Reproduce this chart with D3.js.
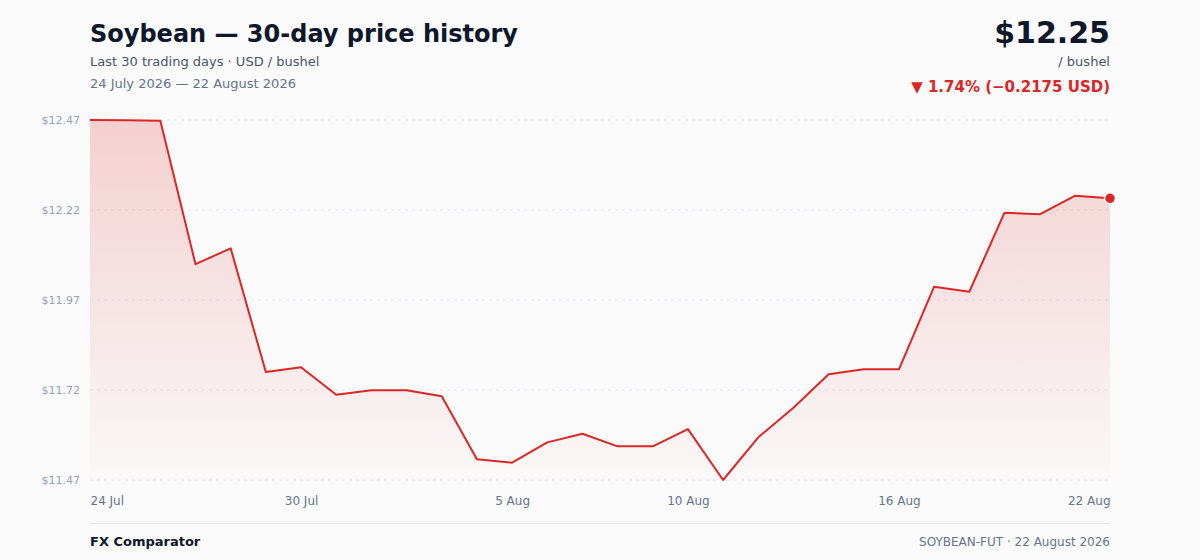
<!DOCTYPE html>
<html>
<head>
<meta charset="utf-8">
<script src="https://cdn.jsdelivr.net/npm/d3@7"></script>
<style>
  html, body { margin: 0; padding: 0; background: #fafafa; }
  svg { display: block; font-family: "DejaVu Sans", sans-serif; }
</style>
</head>
<body>
<div id="chart"></div>
<script>
// 30 calendar days, 24 Jul -> 22 Aug 2026
const dayLabels = ["24 Jul","25 Jul","26 Jul","27 Jul","28 Jul","29 Jul","30 Jul","31 Jul",
  "1 Aug","2 Aug","3 Aug","4 Aug","5 Aug","6 Aug","7 Aug","8 Aug","9 Aug","10 Aug",
  "11 Aug","12 Aug","13 Aug","14 Aug","15 Aug","16 Aug","17 Aug","18 Aug","19 Aug",
  "20 Aug","21 Aug","22 Aug"];
const prices = [12.4675, 12.4665, 12.4655, 12.067, 12.111, 11.7675, 11.7805, 11.7045,
  11.717, 11.717, 11.700, 11.525, 11.5155, 11.572, 11.596, 11.561, 11.561, 11.609,
  11.4675, 11.586, 11.668, 11.761, 11.775, 11.775, 12.0045, 11.9905, 12.210, 12.2055,
  12.257, 12.25];
const tickDays = ["24 Jul","30 Jul","5 Aug","10 Aug","16 Aug","22 Aug"];

const W = 1200, H = 560;
const margin = {left: 90, right: 90, top: 120, bottom: 80};

let svg = d3.select("#chart").append("svg")
  .attr("width", W).attr("height", H);

svg.append("rect").attr("width", W).attr("height", H).attr("fill", "#fafafa");

let x = d3.scalePoint(dayLabels, [margin.left, W - margin.right]);
let y = d3.scaleLinear(d3.extent(prices), [H - margin.bottom, margin.top]);

// header
svg.append("text").attr("x", 90).attr("y", 42)
  .attr("font-size", 24).attr("font-weight", "bold").attr("fill", "#0f172a")
  .text("Soybean — 30-day price history");
svg.append("text").attr("x", 90).attr("y", 66)
  .attr("font-size", 13).attr("fill", "#475569")
  .text("Last 30 trading days · USD / bushel");
svg.append("text").attr("x", 90).attr("y", 88)
  .attr("font-size", 13).attr("fill", "#64748b")
  .text("24 July 2026 — 22 August 2026");

let last = prices[prices.length - 1], first = prices[0];
let diff = last - first;
svg.append("text").attr("x", 1110).attr("y", 43).attr("text-anchor", "end")
  .attr("font-size", 30).attr("font-weight", "bold").attr("fill", "#0f172a")
  .text("$" + last.toFixed(2));
svg.append("text").attr("x", 1110).attr("y", 66).attr("text-anchor", "end")
  .attr("font-size", 13).attr("fill", "#475569")
  .text("/ bushel");
svg.append("text").attr("x", 1110).attr("y", 92).attr("text-anchor", "end")
  .attr("font-size", 15).attr("font-weight", "bold").attr("fill", "#dc2626")
  .text("▼ " + Math.abs(diff / first * 100).toFixed(2) + "% (−" + Math.abs(diff).toFixed(4) + " USD)");

// gradient for the area
let defs = svg.append("defs");
let grad = defs.append("linearGradient").attr("id", "areaGrad")
  .attr("x1", 0).attr("x2", 0).attr("y1", 0).attr("y2", 1);
grad.append("stop").attr("offset", "0%").attr("stop-color", "#dc2626").attr("stop-opacity", 0.2);
grad.append("stop").attr("offset", "100%").attr("stop-color", "#dc2626").attr("stop-opacity", 0.01);

// y grid + labels
let yDom = y.domain();
let yTicks = d3.range(5).map((i) => yDom[0] + i * (yDom[1] - yDom[0]) / 4);

let grid = svg.append("g").classed("grid", true);
grid.selectAll("line").data(yTicks).enter().append("line")
  .attr("x1", margin.left).attr("x2", W - margin.right)
  .attr("y1", (d) => y(d)).attr("y2", (d) => y(d))
  .attr("stroke", "#e2e8f0").attr("stroke-dasharray", "3,4");

let yAxis = svg.append("g")
  .attr("transform", "translate(" + (margin.left - 10) + ",0)")
  .call(d3.axisLeft(y).tickValues(yTicks).tickSize(0).tickPadding(0)
    .tickFormat((d) => "$" + d.toFixed(2)));
yAxis.select(".domain").remove();
yAxis.selectAll("text").attr("font-size", 11).attr("fill", "#94a3b8")
  .attr("font-family", "DejaVu Sans, sans-serif").attr("dy", "0.32em");

// area + line
svg.append("path").datum(prices)
  .attr("fill", "url(#areaGrad)")
  .attr("d", d3.area()
    .x((d, i) => x(dayLabels[i]))
    .y0(H - margin.bottom)
    .y1((d) => y(d)));

svg.append("path").datum(prices)
  .attr("fill", "none").attr("stroke", "#dc2626").attr("stroke-width", 2)
  .attr("stroke-linejoin", "round")
  .attr("d", d3.line()
    .x((d, i) => x(dayLabels[i]))
    .y((d) => y(d)));

svg.append("circle")
  .attr("cx", x(dayLabels[dayLabels.length - 1])).attr("cy", y(last))
  .attr("r", 5.5).attr("fill", "#dc2626").attr("stroke", "#fff").attr("stroke-width", 1.5);

// x axis labels
let xAxis = svg.append("g")
  .attr("transform", "translate(0," + (H - margin.bottom + 16) + ")")
  .call(d3.axisBottom(x).tickValues(tickDays).tickSize(0).tickPadding(0));
xAxis.select(".domain").remove();
xAxis.selectAll("text").attr("font-size", 12).attr("fill", "#64748b")
  .attr("font-family", "DejaVu Sans, sans-serif")
  .attr("text-anchor", (d, i) => i === 0 ? "start" : (i === tickDays.length - 1 ? "end" : "middle"));

// footer
svg.append("line").attr("x1", 90).attr("x2", 1110).attr("y1", 523.5).attr("y2", 523.5)
  .attr("stroke", "#e5e7eb");
svg.append("text").attr("x", 90).attr("y", 546)
  .attr("font-size", 13).attr("font-weight", "bold").attr("fill", "#0f172a")
  .text("FX Comparator");
svg.append("text").attr("x", 1110).attr("y", 546).attr("text-anchor", "end")
  .attr("font-size", 12).attr("fill", "#64748b")
  .text("SOYBEAN-FUT · 22 August 2026");
</script>
</body>
</html>
